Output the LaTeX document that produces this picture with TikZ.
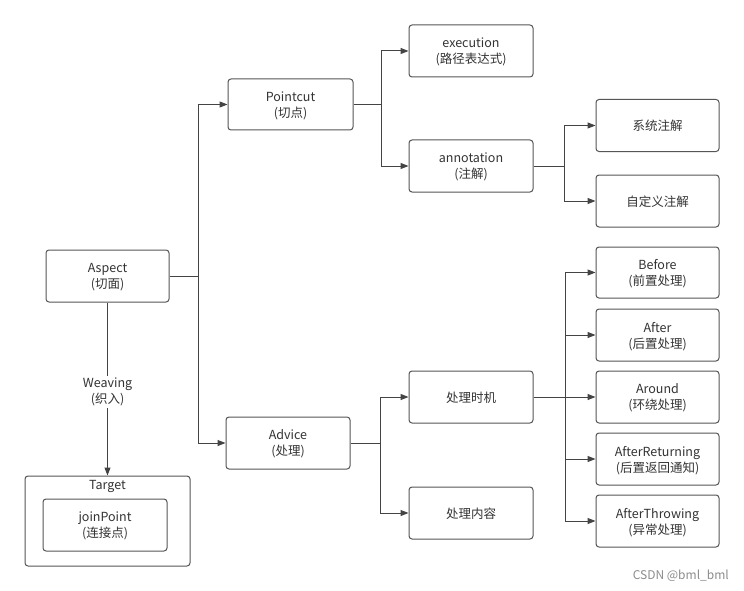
\documentclass[tikz,border=0pt]{standalone}
\usepackage{fontspec}
\setmainfont{Noto Sans CJK SC}
\usetikzlibrary{arrows.meta,positioning}
\definecolor{txt}{HTML}{333333}
\definecolor{edge}{HTML}{555555}
\definecolor{wire}{HTML}{444444}
\tikzset{
  box/.style={draw=edge, line width=1pt, rounded corners=3pt, minimum width=124pt, minimum height=52pt,
    align=center, text=txt, font=\fontsize{12.5}{16}\selectfont, inner sep=0pt, text depth=-4pt},
  arr/.style={draw=wire, line width=1pt, -{Triangle[length=8pt,width=6pt]}},
  ln/.style={draw=wire, line width=1pt},
}
\begin{document}
\begin{tikzpicture}[x=1pt,y=-1pt]
\useasboundingbox[fill=white] (0,0) rectangle (744,591);
% nodes
\node[box, minimum width=123pt] (aspect) at (107.5,276) {Aspect\\(切面)};
\node[box, minimum width=125pt, minimum height=51pt] (pointcut) at (290.5,104.5) {Pointcut\\(切点)};
\node[box] (advice) at (288,443) {Advice\\(处理)};
\node[box] (exec) at (471,51) {execution\\(路径表达式)};
\node[box] (anno) at (471,166) {annotation\\(注解)};
\node[box, minimum width=123pt] (sys) at (657.5,125.5) {系统注解};
\node[box, minimum width=123pt] (custom) at (657.5,201) {自定义注解};
\node[box] (timing) at (471,397) {处理时机};
\node[box] (content) at (471,513) {处理内容};
\node[box, minimum width=123pt, minimum height=51pt] (before) at (657.5,272.5) {Before\\(前置处理)};
\node[box, minimum width=123pt] (after) at (657.5,335) {After\\(后置处理)};
\node[box, minimum width=123pt] (around) at (657.5,397) {Around\\(环绕处理)};
\node[box, minimum width=123pt] (afterret) at (657.5,459) {AfterReturning\\(后置返回通知)};
\node[box, minimum width=123pt] (afterthr) at (657.5,521) {AfterThrowing\\(异常处理)};
\node[box, minimum width=165pt, minimum height=90pt] (target) at (107.5,521) {};
\node[text=txt, font=\fontsize{12.5}{16}\selectfont, inner sep=0pt] (targetlbl) at (107.5,486.5) {Target};
\node[box, minimum width=124pt] (join) at (105,525) {joinPoint\\(连接点)};
% hubs
\coordinate (h1) at (198,276);
\coordinate (h2) at (381,104.5);
\coordinate (h3) at (564,166);
\coordinate (h4) at (380,443);
\coordinate (h5) at (565,397);
% connectors
\draw[ln] (aspect.east) -- (h1);
\draw[arr] (h1) |- (pointcut.west);
\draw[arr] (h1) |- (advice.west);
\draw[ln] (pointcut.east) -- (h2);
\draw[arr] (h2) |- (exec.west);
\draw[arr] (h2) |- (anno.west);
\draw[ln] (anno.east) -- (h3);
\draw[arr] (h3) |- (sys.west);
\draw[arr] (h3) |- (custom.west);
\draw[ln] (advice.east) -- (h4);
\draw[arr] (h4) |- (timing.west);
\draw[arr] (h4) |- (content.west);
\draw[ln] (timing.east) -- (h5);
\draw[arr] (h5) |- (before.west);
\draw[arr] (h5) |- (after.west);
\draw[arr] (h5) -- (around.west);
\draw[arr] (h5) |- (afterret.west);
\draw[arr] (h5) |- (afterthr.west);
\draw[arr] (aspect.south) -- node[fill=white, text=txt, align=center, font=\fontsize{12.5}{16}\selectfont, inner sep=2pt, pos=0.515] (weave) {Weaving\\(织入)} (target.north);
% watermark
\node[anchor=east, text=black!45, font=\fontsize{12}{14}\selectfont, inner sep=0pt] (wm) at (729,576) {CSDN @bml\_bml};
\end{tikzpicture}
\end{document}
